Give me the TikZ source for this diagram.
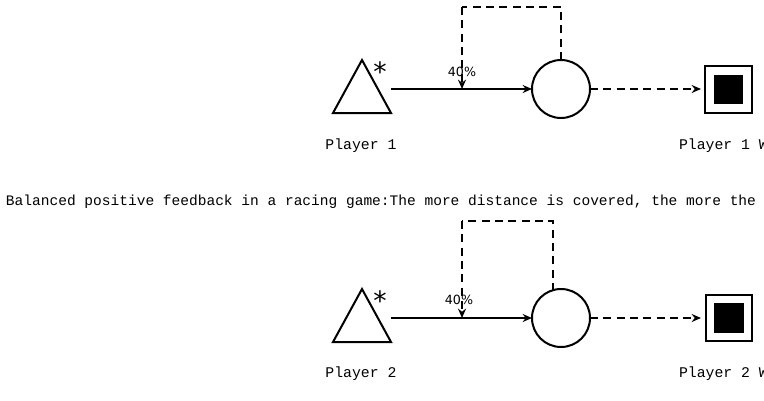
\documentclass[tikz,border=0pt]{standalone}
\usepackage{fontspec}
\setmonofont{Liberation Mono}
\setsansfont{DejaVu Sans}
\usetikzlibrary{arrows.meta}
\tikzset{every picture/.style={line width=1.5pt}}
\tikzset{lbl/.style={font=\ttfamily\fontsize{11.1}{12}\selectfont},
  pct/.style={font=\sffamily\fontsize{9.5}{11}\selectfont},
  star/.style={font=\sffamily\fontsize{20}{20}\selectfont},
  flow/.style={-{Stealth[length=7pt,width=6pt]}},
  dflow/.style={dashed,dash pattern=on 6pt off 4pt,-{Stealth[length=7pt,width=6pt]}}}
\begin{document}
\begin{tikzpicture}[x=0.75pt,y=0.75pt,yscale=-1,xscale=1]
\useasboundingbox (0,0) rectangle (764,400);
%Player 1 row
\draw (362,60) -- (391,113) -- (333,113) -- cycle ;
\draw (380,72) node [star] {*};
\draw (561,89) circle [radius=29] ;
\draw [flow] (391,89) -- (532,89) ;
\draw [dashed,dash pattern=on 6pt off 4pt] (561,60) -- (561,7) -- (462,7) ;
\draw [dflow] (462,7) -- (462,89) ;
\draw (462,72) node [pct] {40\%};
\draw [dflow] (590,89) -- (701,89) ;
\draw (705,66) rectangle (752,113) ;
\fill (714,75) rectangle (743,104) ;
\draw (361,146) node [lbl] {Player 1};
\draw (678,146) node [lbl,anchor=west,inner sep=0] {Player 1 Wi};
% caption
\draw (5,202) node [lbl,anchor=west,inner sep=0,font=\ttfamily\fontsize{10.9}{12}\selectfont] {Balanced positive feedback in a racing game:The more distance is covered, the more the};
%Player 2 row
\draw (362,289) -- (391,342) -- (333,342) -- cycle ;
\draw (380,301) node [star] {*};
\draw (561,318) circle [radius=29] ;
\draw [flow] (391,318) -- (532,318) ;
\draw [dashed,dash pattern=on 6pt off 4pt] (553,291) -- (553,221) -- (462,221) ;
\draw [dflow] (462,221) -- (462,318) ;
\draw (459,300) node [pct] {40\%};
\draw [dflow] (590,318) -- (701,318) ;
\draw (706,295) rectangle (752,341) ;
\fill (714,303) rectangle (744,333) ;
\draw (361,374) node [lbl] {Player 2};
\draw (678,374) node [lbl,anchor=west,inner sep=0] {Player 2 Wi};
\end{tikzpicture}
\end{document}
